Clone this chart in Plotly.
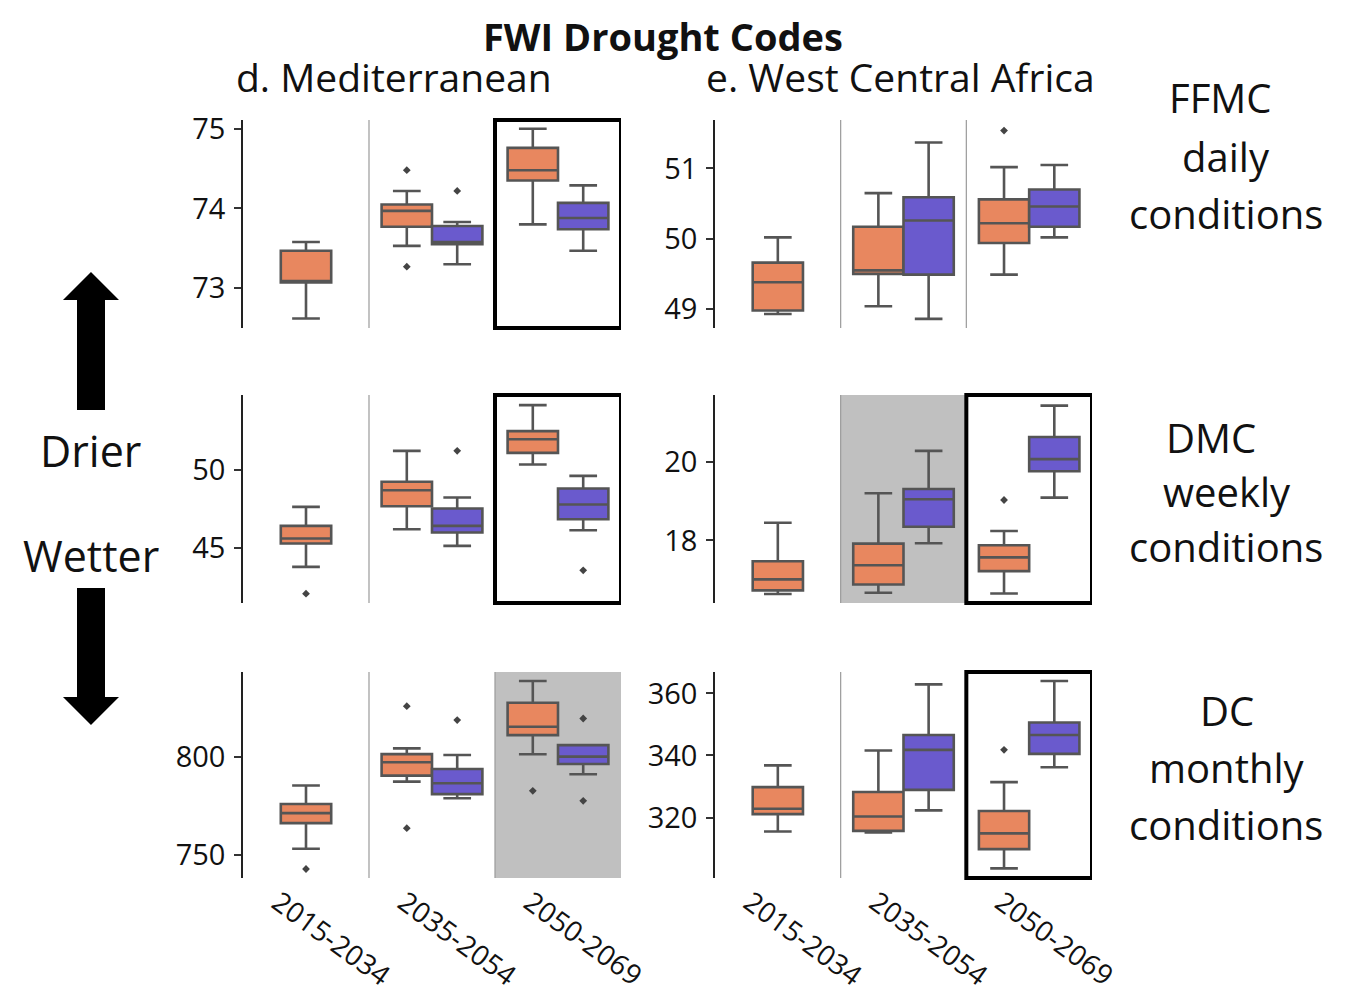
import plotly.graph_objects as go

W, H = 1361, 991

periods = ["2015-2034", "2035-2054", "2050-2069"]
regions = ["d. Mediterranean", "e. West Central Africa"]
codes = [["FFMC", "daily", "conditions"], ["DMC", "weekly", "conditions"], ["DC", "monthly", "conditions"]]

# box stats per period: [lower whisker, q1, median, q3, upper whisker]
med_ffmc_orange = [[72.62, 73.07, 73.09, 73.47, 73.58], [73.53, 73.77, 73.97, 74.05, 74.22], [73.80, 74.35, 74.48, 74.76, 75.00]]
med_ffmc_orange_out = [[], [74.48, 73.27], []]
med_ffmc_purple = [None, [73.30, 73.55, 73.58, 73.78, 73.83], [73.47, 73.74, 73.88, 74.07, 74.29]]
med_ffmc_purple_out = [[], [74.22], []]

wca_ffmc_orange = [[48.93, 48.98, 49.38, 49.66, 50.02], [49.04, 49.50, 49.55, 50.17, 50.65], [49.49, 49.94, 50.22, 50.56, 51.02]]
wca_ffmc_orange_out = [[], [], [51.54]]
wca_ffmc_purple = [None, [48.86, 49.49, 50.26, 50.59, 51.37], [50.02, 50.17, 50.46, 50.70, 51.05]]
wca_ffmc_purple_out = [[], [], []]

med_dmc_orange = [[43.78, 45.28, 45.61, 46.42, 47.64], [46.20, 47.68, 48.71, 49.25, 51.24], [50.36, 51.11, 51.99, 52.51, 54.18]]
med_dmc_orange_out = [[42.06], [], []]
med_dmc_purple = [None, [45.13, 45.99, 46.42, 47.53, 48.24], [46.14, 46.84, 47.79, 48.82, 49.63]]
med_dmc_purple_out = [[], [51.24], [43.56]]

wca_dmc_orange = [[16.64, 16.73, 17.01, 17.47, 18.45], [16.67, 16.88, 17.37, 17.92, 19.20], [16.65, 17.22, 17.57, 17.88, 18.24]]
wca_dmc_orange_out = [[], [], [19.03]]
wca_dmc_purple = [None, [17.93, 18.35, 19.05, 19.31, 20.28], [19.09, 19.76, 20.07, 20.63, 21.43]]
wca_dmc_purple_out = [[], [], []]

med_dc_orange = [[753.1, 766.2, 771.3, 776.0, 785.4], [787.4, 790.5, 797.3, 801.5, 804.4], [801.4, 811.2, 815.5, 827.8, 838.9]]
med_dc_orange_out = [[742.7], [826.0, 763.6], [782.7]]
med_dc_purple = [None, [778.9, 781.0, 786.6, 793.9, 801.0], [791.2, 796.4, 800.2, 806.1, 806.1]]
med_dc_purple_out = [[], [818.9], [819.7, 777.6]]

wca_dc_orange = [[315.5, 321.1, 322.8, 329.8, 336.8], [315.2, 315.7, 320.3, 328.2, 341.6], [303.6, 309.8, 314.9, 322.1, 331.4]]
wca_dc_orange_out = [[], [], [341.8]]
wca_dc_purple = [None, [322.3, 328.9, 341.8, 346.6, 362.9], [336.2, 340.5, 346.6, 350.6, 364.0]]
wca_dc_purple_out = [[], [], []]

y_ranges = [[72.5, 75.11], [48.73, 51.69], [41.46, 54.83], [16.41, 21.70], [738.1, 843.5], [300.5, 366.9]]
y_ticks = [[73, 74, 75], [49, 50, 51], [45, 50], [18, 20], [750, 800], [320, 340, 360]]
# highlighted period per panel: framed (box) and shaded
framed = [2, None, 2, 2, None, 2]
shaded = [None, None, None, 1, 2, None]

ORANGE = "#E8875F"
PURPLE = "#6A5ACD"
EDGE = "#555555"
FONT = "Open Sans"

panels = [
    (med_ffmc_orange, med_ffmc_orange_out, med_ffmc_purple, med_ffmc_purple_out),
    (wca_ffmc_orange, wca_ffmc_orange_out, wca_ffmc_purple, wca_ffmc_purple_out),
    (med_dmc_orange, med_dmc_orange_out, med_dmc_purple, med_dmc_purple_out),
    (wca_dmc_orange, wca_dmc_orange_out, wca_dmc_purple, wca_dmc_purple_out),
    (med_dc_orange, med_dc_orange_out, med_dc_purple, med_dc_purple_out),
    (wca_dc_orange, wca_dc_orange_out, wca_dc_purple, wca_dc_purple_out),
]

OFF = 8  # page body margin


def PX(x):
    return (x - OFF) / W


def PY(y):
    return 1 - (y - OFF) / H


x_domains = [[PX(243), PX(621)], [PX(715), PX(1092)]]
y_domains = [[PY(328), PY(120)], [PY(603), PY(395)], [PY(878), PY(672)]]

fig = go.Figure()
shapes = []
layout_axes = {}

for idx, (orng, orng_out, purp, purp_out) in enumerate(panels):
    k = idx + 1
    row, col = idx // 2, idx % 2
    xa = "x" if k == 1 else f"x{k}"
    ya = "y" if k == 1 else f"y{k}"
    for i in range(3):
        has_p = purp[i] is not None
        pos_o = i - 0.2 if has_p else i
        series = [(orng[i], orng_out[i], pos_o, ORANGE)]
        if has_p:
            series.append((purp[i], purp_out[i], i + 0.2, PURPLE))
        for st, outs, pos, colr in series:
            fig.add_trace(go.Box(
                x=[pos], lowerfence=[st[0]], q1=[st[1]], median=[st[2]], q3=[st[3]], upperfence=[st[4]],
                width=0.4, whiskerwidth=0.55, fillcolor=colr, line=dict(color=EDGE, width=2.6),
                xaxis=xa, yaxis=ya, showlegend=False, hoverinfo="skip", boxpoints=False))
            if outs:
                fig.add_trace(go.Scatter(
                    x=[pos] * len(outs), y=outs, mode="markers",
                    marker=dict(symbol="diamond", size=6, color="#444444"),
                    xaxis=xa, yaxis=ya, showlegend=False, hoverinfo="skip"))
    # shading & separators & frames
    if shaded[idx] is not None:
        s = shaded[idx]
        shapes.append(dict(type="rect", xref=xa, yref=f"{ya} domain", x0=s - 0.5, x1=s + 0.5, y0=0, y1=1,
                           fillcolor="#C0C0C0", line=dict(width=0), layer="below"))
    for b in [0.5, 1.5]:
        if framed[idx] is not None and abs(b - (framed[idx] - 0.5)) < 1e-9:
            continue
        shapes.append(dict(type="line", xref=xa, yref=f"{ya} domain", x0=b, x1=b, y0=0, y1=1,
                           line=dict(color="#9A9A9A", width=1.2), layer="below"))
    if framed[idx] is not None:
        f = framed[idx]
        shapes.append(dict(type="rect", xref=xa, yref=f"{ya} domain", x0=f - 0.5, x1=f + 0.5, y0=0, y1=1,
                           line=dict(color="black", width=4), fillcolor="rgba(0,0,0,0)", layer="above"))

    xkey = "xaxis" if k == 1 else f"xaxis{k}"
    ykey = "yaxis" if k == 1 else f"yaxis{k}"
    layout_axes[xkey] = dict(domain=x_domains[col], anchor=ya, range=[-0.5, 2.5], showgrid=False,
                             zeroline=False, showline=False, ticks="", tickmode="array", automargin=False,
                             tickvals=[0, 1, 2], ticktext=periods, showticklabels=(row == 2),
                             tickangle=36, ticklabelshift=-28, ticklabelstandoff=2,
                             tickfont=dict(family=FONT, size=28, color="#111111"))
    layout_axes[ykey] = dict(domain=y_domains[row], anchor=xa, range=y_ranges[idx], showgrid=False,
                             zeroline=False, showline=True, linecolor="#222222", linewidth=1.5,
                             ticks="outside", ticklen=7, tickwidth=1.5, tickcolor="#333333", automargin=False,
                             tickmode="array", tickvals=y_ticks[idx], ticklabelstandoff=3,
                             tickfont=dict(family=FONT, size=29, color="#111111"))

# arrows (Drier / Wetter)
def path(points):
    return "M " + " L ".join(f"{PX(x):.5f},{PY(y):.5f}" for x, y in points) + " Z"


up_arrow = [(91, 272), (119, 300), (105, 300), (105, 410), (77, 410), (77, 300), (63, 300)]
down_arrow = [(91, 725), (119, 697), (105, 697), (105, 588), (77, 588), (77, 697), (63, 697)]
for pts in (up_arrow, down_arrow):
    shapes.append(dict(type="path", xref="paper", yref="paper", path=path(pts),
                       fillcolor="black", line=dict(color="black", width=0)))

annotations = []


def ann(text, x, y, size, bold=False, yanchor="middle"):
    annotations.append(dict(text=f"<b>{text}</b>" if bold else text, x=PX(x), y=PY(y), xref="paper",
                            yref="paper", showarrow=False, xanchor="center", yanchor=yanchor, borderpad=0,
                            font=dict(family=FONT, size=size, color="#111111")))


ann("FWI Drought Codes", 663, OFF + 1, 38, bold=True, yanchor="top")
ann(regions[0], 394, 77, 39)
ann(regions[1], 900, 77, 39)
code_pos = [[(1220, 97), (1226, 156), (1226, 213)],
            [(1211, 437), (1227, 491), (1226, 546)],
            [(1227, 710), (1227, 767), (1226, 824)]]
for r in range(3):
    for line, (x, y) in zip(codes[r], code_pos[r]):
        ann(line, x, y, 40)
ann("Drier", 90, 450, 43)
ann("Wetter", 91, 555, 43)

fig.update_layout(width=W, height=H, margin=dict(l=0, r=0, t=0, b=0, pad=0, autoexpand=False),
                  plot_bgcolor="white", paper_bgcolor="white", showlegend=False, boxmode="overlay",
                  shapes=shapes, annotations=annotations, **layout_axes)

fig.write_html("out.html", config={"displayModeBar": False})
